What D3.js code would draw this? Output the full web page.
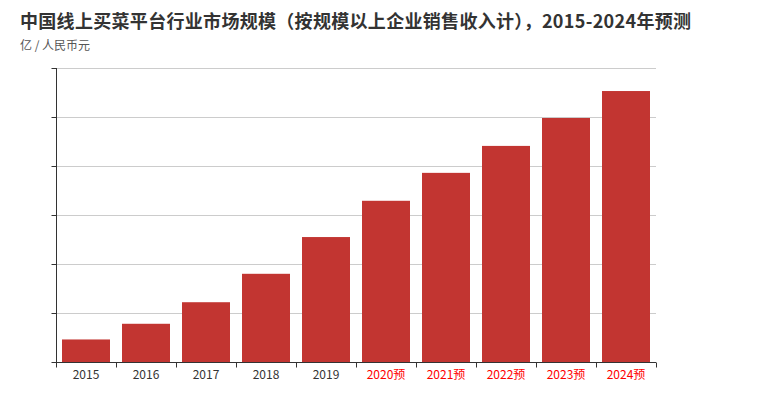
<!DOCTYPE html>
<html><head><meta charset="utf-8">
<script src="https://cdn.jsdelivr.net/npm/d3@7/dist/d3.min.js"></script>
<style>body{margin:0;background:#fff;}svg{display:block;font-family:"Noto Sans CJK SC","Microsoft YaHei",sans-serif;}</style>
</head><body><svg id="c" width="760" height="409"></svg>
<script>
const categories = ["2015","2016","2017","2018","2019","2020预","2021预","2022预","2023预","2024预"];
const values = [46, 78, 122, 180, 255, 329, 386, 441, 498, 553];
const forecast = [false,false,false,false,false,true,true,true,true,true];
const yTicks = [0,100,200,300,400,500,600];
const titleText = "中国线上买菜平台行业市场规模（按规模以上企业销售收入计），2015-2024年预测";
const unitText = "亿 / 人民币元";

const svg = d3.select("#c");
const m = {l:56, r:104, t:68, b:47};
const W = 760, H = 409;
const x = d3.scaleBand().domain(categories).range([m.l, W - m.r]).paddingInner(0.2).paddingOuter(0.1);
const y = d3.scaleLinear().domain([0, 600]).range([H - m.b, m.t]);

svg.append("text").attr("x", 20).attr("y", 28).attr("font-size", 18).attr("font-weight", "bold")
  .attr("fill", "#333").attr("textLength", 671).attr("lengthAdjust", "spacing").text(titleText);
svg.append("text").attr("x", 20).attr("y", 50).attr("font-size", 12).attr("fill", "#555").text(unitText);

// grid
svg.append("g").selectAll("line").data(yTicks.slice(1)).join("line")
  .attr("x1", m.l).attr("x2", W - m.r).attr("y1", d => Math.round(y(d)) + 0.5).attr("y2", d => Math.round(y(d)) + 0.5)
  .attr("stroke", "#ccc").attr("stroke-width", 1);

// bars
svg.append("g").selectAll("rect").data(values).join("rect")
  .attr("x", (d, i) => x(categories[i])).attr("width", x.bandwidth())
  .attr("y", d => y(d)).attr("height", d => y(0) - y(d)).attr("fill", "#c23531");

// y axis
const ya = svg.append("g").attr("transform", `translate(${m.l + 0.5},0)`)
  .call(d3.axisLeft(y).tickValues(yTicks).tickSize(5).tickFormat(""));
ya.select(".domain").attr("stroke", "#333").attr("d", `M0,${y(600)}V${y(0)}`);
ya.selectAll(".tick line").attr("stroke", "#333");

// x axis
const xa = svg.append("g").attr("transform", `translate(0,${Math.round(y(0)) + 0.5})`)
  .call(d3.axisBottom(x).tickSize(0).tickPadding(8));
xa.select(".domain").attr("stroke", "#333").attr("d", `M${m.l},0H${W - m.r}`);
xa.selectAll(".tick text").attr("font-size", 12).attr("font-family", '"Noto Sans CJK SC",sans-serif')
  .attr("fill", (d, i) => forecast[i] ? "#ff0000" : "#333");
const bounds = d3.range(categories.length + 1).map(i => m.l + i * (W - m.l - m.r) / categories.length);
xa.append("g").selectAll("line").data(bounds).join("line")
  .attr("x1", d => Math.round(d) + 0.5).attr("x2", d => Math.round(d) + 0.5).attr("y1", 0).attr("y2", 5).attr("stroke", "#333");
</script></body></html>
